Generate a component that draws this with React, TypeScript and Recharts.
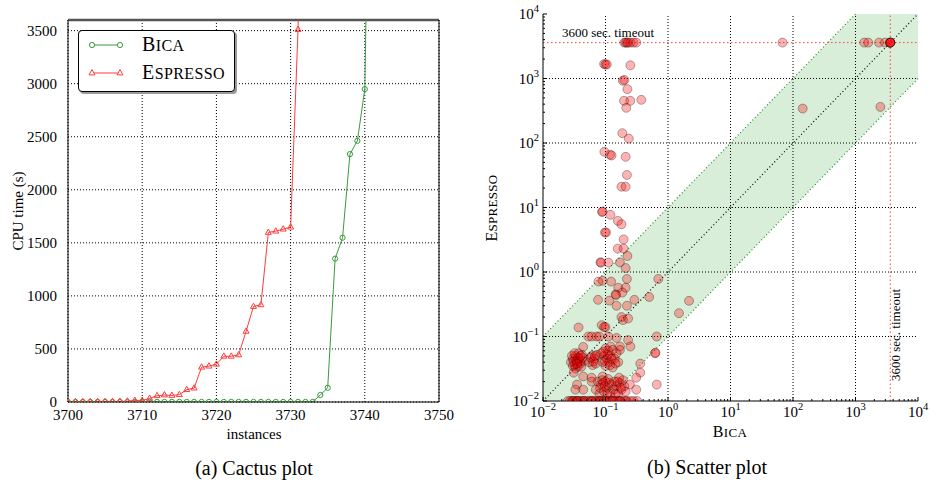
import React from 'react'
import {
  LineChart, Line, XAxis, YAxis, CartesianGrid, ReferenceLine,
  ComposedChart, Scatter, Area,
} from 'recharts'

const SERIF = '"Liberation Serif", "DejaVu Serif", serif'

// ---- cactus plot data (instances 3700 .. 3741) ----
const cactusStart = 3700
const bicaTimes = [
  1, 1, 1, 1, 1, 1, 1, 1, 1, 1, 1, 1, 1, 1, 1, 1, 1, 1, 1, 1,
  1, 1, 1, 1, 1, 1, 1, 1, 1, 1, 1, 1, 1, 2,
  66, 134, 1351, 1548, 2336, 2461, 2949, 7200,
]
const espressoTimes = [
  1, 2, 2, 3, 3, 4, 4, 5, 8, 15, 15, 34, 59, 66, 62, 69, 116, 131, 328, 338,
  356, 431, 431, 444, 666, 900, 916, 1598, 1610, 1629, 1648, 3510, 7200,
]
const cactusXTicks = [3700, 3710, 3720, 3730, 3740, 3750]
const cactusYTicks = [0, 500, 1000, 1500, 2000, 2500, 3000, 3500]

const cactusData = bicaTimes.map((b, i) => ({
  x: cactusStart + i,
  bica: b,
  espresso: i < espressoTimes.length ? espressoTimes[i] : undefined,
}))

// ---- scatter plot data: [Bica, Espresso] seconds ----
const scatterTop: [number, number][] = [
  [0.2, 3600], [0.21, 3600], [0.22, 3600], [0.23, 3600], [0.25, 3600], [0.28, 3600], [0.31, 3600],
  [0.095, 1680], [0.1, 1650], [0.105, 1650], [0.25, 1600],
  [0.19, 920], [0.2, 950], [0.224, 684], [0.198, 451], [0.249, 451], [0.374, 467], [0.215, 351],
  [0.186, 142], [0.236, 117],
  [0.096, 73], [0.118, 66], [0.125, 64], [0.21, 61],
  [0.22, 32], [0.18, 21], [0.21, 21],
  [0.088, 8.5], [0.09, 8.7], [0.12, 7.7], [0.158, 6.2], [0.18, 5.5], [0.098, 4.1], [0.102, 4.1],
  [0.195, 3.2], [0.157, 2.3], [0.195, 2.3], [0.224, 1.77],
  [0.083, 1.41], [0.085, 1.4], [0.111, 1.4], [0.17, 1.41], [0.21, 1.15],
  [0.077, 0.71], [0.09, 0.73], [0.123, 0.71], [0.22, 0.78], [0.7, 0.78],
  [0.16, 0.57], [0.21, 0.57], [0.145, 0.45], [0.148, 0.44], [0.186, 0.48], [0.076, 0.37],
  [0.115, 0.36], [0.29, 0.37], [0.5, 0.41], [2.17, 0.357], [1.5, 0.23], [0.15, 0.3], [0.22, 0.3],
]
const scatterMid: [number, number][] = [
  [0.037, 0.138], [0.087, 0.15], [0.095, 0.14], [0.1, 0.14], [0.19, 0.18], [0.23, 0.19], [0.18, 0.2],
  [0.053, 0.1], [0.06, 0.1], [0.072, 0.1], [0.08, 0.1], [0.111, 0.1], [0.15, 0.095], [0.23, 0.088], [0.66, 0.1],
  [0.044, 0.069], [0.12, 0.07], [0.17, 0.07], [0.25, 0.07], [0.17, 0.062], [0.62, 0.055],
]
const scatterDense: [number, number][] = [
  [0.028, 0.04], [0.03, 0.045], [0.032, 0.036], [0.033, 0.05], [0.035, 0.04], [0.036, 0.034], [0.038, 0.046],
  [0.04, 0.038], [0.042, 0.052], [0.03, 0.035], [0.034, 0.043], [0.045, 0.042], [0.037, 0.055],
  [0.029, 0.05], [0.031, 0.041], [0.033, 0.032], [0.036, 0.047], [0.039, 0.041], [0.041, 0.034],
  [0.043, 0.047], [0.032, 0.055], [0.035, 0.038], [0.04, 0.05],
  [0.055, 0.04], [0.06, 0.05], [0.062, 0.036], [0.066, 0.045], [0.07, 0.038], [0.058, 0.047], [0.073, 0.052],
  [0.064, 0.041], [0.068, 0.05],
  [0.09, 0.04], [0.095, 0.05], [0.1, 0.035], [0.105, 0.045], [0.11, 0.06], [0.115, 0.04], [0.12, 0.05],
  [0.13, 0.033], [0.14, 0.045], [0.15, 0.055], [0.16, 0.04], [0.1, 0.065], [0.13, 0.062], [0.085, 0.055],
  [0.098, 0.042], [0.108, 0.052], [0.118, 0.036], [0.125, 0.045], [0.145, 0.038], [0.092, 0.058],
  [0.07, 0.015], [0.075, 0.02], [0.08, 0.013], [0.085, 0.018], [0.09, 0.024], [0.095, 0.014], [0.1, 0.02],
  [0.105, 0.016], [0.11, 0.022], [0.12, 0.013], [0.125, 0.018], [0.088, 0.021],
  [0.082, 0.016], [0.092, 0.019], [0.098, 0.017], [0.115, 0.019], [0.108, 0.013],
  [0.135, 0.015], [0.14, 0.02], [0.15, 0.017], [0.16, 0.013], [0.17, 0.019], [0.18, 0.015], [0.19, 0.021],
  [0.2, 0.017], [0.21, 0.014], [0.165, 0.023], [0.155, 0.02], [0.175, 0.016], [0.145, 0.013],
  [0.031, 0.0275], [0.044, 0.024], [0.06, 0.023], [0.06, 0.02], [0.245, 0.018], [0.31, 0.015], [0.035, 0.018],
  [0.033, 0.015], [0.044, 0.015], [0.36, 0.0276], [0.36, 0.038], [0.31, 0.023], [0.66, 0.018], [0.63, 0.056],
]
// Espresso times at or below 0.01 s sit on the bottom axis
const bottomRowBica = [
  0.025, 0.027, 0.029, 0.031, 0.033, 0.035, 0.037, 0.04, 0.043, 0.046, 0.05, 0.054, 0.058, 0.062, 0.067,
  0.072, 0.078, 0.084, 0.09, 0.097, 0.105, 0.113, 0.122, 0.132, 0.142, 0.153, 0.165, 0.18, 0.2, 0.22,
  0.25, 0.28, 0.32, 0.03, 0.036, 0.045, 0.06, 0.08, 0.1, 0.13, 0.17, 0.21,
]
const scatterSlow: [number, number][] = [
  [68, 3600], [143, 342], [1380, 3600], [1600, 3600], [2376, 3600], [2965, 3600],
  [3600, 3600], [3600, 3600], [3600, 3600], [3600, 3600], [3600, 3600], [2500, 363],
]
const timeout = 3600

const scatterPoints = [
  ...scatterTop, ...scatterMid, ...scatterDense,
  ...bottomRowBica.map((b) => [b, 0.01] as [number, number]),
  ...scatterSlow,
].map(([x, y]) => ({ x, y }))

// band where the two solvers are within a factor of ten
const bandX = [0.01, 0.1, 1000, 10000]
const bandLow = [0.01, 0.01, 100, 1000]
const bandHigh = [0.1, 1, 10000, 10000]
const bandData = bandX.map((x, i) => ({ x, band: [bandLow[i], bandHigh[i]] }))

const logMajors = [0.01, 0.1, 1, 10, 100, 1000, 10000]
const logExps = [-2, -1, 0, 1, 2, 3, 4]
const logTicks: number[] = []
for (let k = -2; k <= 3; k++) {
  for (let m = 1; m <= 9; m++) logTicks.push(+(m * Math.pow(10, k)).toPrecision(3))
}
logTicks.push(10000)

const GREEN = '#3a9a3a'
const RED = '#ff3b3b'

function CircleDot(p: any) {
  if (p.cx == null || p.cy == null || p.value == null) return <g key={p.index} />
  return <circle key={p.index} cx={p.cx} cy={p.cy} r={2.6} fill="none" stroke={GREEN} strokeWidth={1} />
}

function TriangleDot(p: any) {
  if (p.cx == null || p.cy == null || p.value == null) return <g key={p.index} />
  const { cx, cy } = p
  return (
    <polygon key={p.index} points={`${cx},${cy - 3.4} ${cx - 3},${cy + 1.9} ${cx + 3},${cy + 1.9}`}
      fill="none" stroke={RED} strokeWidth={1} />
  )
}

function expIndex(v: number) {
  return logMajors.findIndex((m) => Math.abs(Math.log10(m) - Math.log10(v)) < 1e-6)
}

function LogTick(side: 'left' | 'bottom' | 'top' | 'right') {
  return (props: any) => {
    const { x, y, payload } = props
    const i = expIndex(payload.value)
    const major = i >= 0
    const len = major ? 4 : 2
    let line
    if (side === 'left') line = <line x1={x} y1={y} x2={x + len} y2={y} stroke="#000" />
    else if (side === 'right') line = <line x1={x} y1={y} x2={x - len} y2={y} stroke="#000" />
    else if (side === 'bottom') line = <line x1={x} y1={y} x2={x} y2={y - len} stroke="#000" />
    else line = <line x1={x} y1={y} x2={x} y2={y + len} stroke="#000" />
    let label = null
    if (major && (side === 'left' || side === 'bottom')) {
      const e = logExps[i]
      const left = side === 'left'
      label = (
        <text x={left ? x - 4 : x} y={left ? y + 5 : y + 16} textAnchor={left ? 'end' : 'middle'}
          fontFamily={SERIF} fontSize={15} fill="#000">
          <tspan>10</tspan>
          <tspan dy={-7} fontSize={10.5}>{e < 0 ? '\u2212' + -e : e}</tspan>
        </text>
      )
    }
    return <g>{line}{label}</g>
  }
}

function CactusChart() {
  return (
    <div style={{ position: 'absolute', left: 0, top: 0 }}>
      <LineChart width={462} height={440} data={cactusData} margin={{ top: 20, right: 23, bottom: 0, left: 0 }}>
        <CartesianGrid stroke="#000" strokeDasharray="1 2" />
        <XAxis type="number" dataKey="x" domain={[3700, 3750]} ticks={cactusXTicks} interval={0}
          allowDataOverflow height={38} tickLine={false} tickMargin={1} axisLine={{ stroke: '#000' }}
          tick={{ fontSize: 15, fill: '#000', fontFamily: SERIF }} />
        <YAxis type="number" domain={[0, 3600]} ticks={cactusYTicks} interval={0}
          allowDataOverflow width={68} tickLine={false} tickMargin={5} axisLine={{ stroke: '#000' }}
          tick={{ fontSize: 15, fill: '#000', fontFamily: SERIF }} />
        <ReferenceLine y={3600} stroke="#555" strokeWidth={2.5} />
        <ReferenceLine x={3750} stroke="#000" />
        <Line type="linear" dataKey="bica" stroke={GREEN} strokeWidth={1} dot={CircleDot}
          activeDot={false} isAnimationActive={false} />
        <Line type="linear" dataKey="espresso" stroke={RED} strokeWidth={1} dot={TriangleDot}
          activeDot={false} isAnimationActive={false} />
      </LineChart>
    </div>
  )
}

function TimeoutLabelH(props: any) {
  const { viewBox } = props
  return (
    <text x={viewBox.x + 19} y={viewBox.y - 6} fontFamily={SERIF} fontSize={13} fill="#000">
      3600 sec. timeout
    </text>
  )
}

function TimeoutLabelV(props: any) {
  const { viewBox } = props
  const cx = viewBox.x + 7
  const cy = viewBox.y + viewBox.height - 66
  return (
    <text x={cx} y={cy} transform={`rotate(-90 ${cx} ${cy})`} textAnchor="middle" dominantBaseline="middle"
      fontFamily={SERIF} fontSize={13} fill="#000">
      3600 sec. timeout
    </text>
  )
}

function ScatterChartBox() {
  return (
    <div style={{ position: 'absolute', left: 470, top: 0 }}>
      <ComposedChart width={460} height={440} data={bandData} margin={{ top: 14, right: 12, bottom: 0, left: 0 }}>
        <XAxis xAxisId="b" type="number" dataKey="x" scale="log" domain={[0.01, 10000]} allowDataOverflow
          ticks={logTicks} interval={0} height={39} tickSize={0} tickMargin={0} axisLine={{ stroke: '#000' }}
          tick={LogTick('bottom')} />
        <XAxis xAxisId="t" orientation="top" type="number" dataKey="x" scale="log" domain={[0.01, 10000]}
          allowDataOverflow ticks={logTicks} interval={0} height={0} tickSize={0} tickMargin={0}
          axisLine={{ stroke: '#000' }} tick={LogTick('top')} />
        <YAxis yAxisId="l" type="number" dataKey="y" scale="log" domain={[0.01, 10000]} allowDataOverflow
          ticks={logTicks} interval={0} width={73} tickSize={0} tickMargin={0} axisLine={{ stroke: '#000' }}
          tick={LogTick('left')} />
        <YAxis yAxisId="r" orientation="right" type="number" dataKey="y" scale="log" domain={[0.01, 10000]}
          allowDataOverflow ticks={logTicks} interval={0} width={0} tickSize={0} tickMargin={0}
          axisLine={{ stroke: '#000' }} tick={LogTick('right')} />
        <Area xAxisId="b" yAxisId="l" type="linear" dataKey="band" stroke="none" fill="#2ca02c"
          fillOpacity={0.18} isAnimationActive={false} dot={false} activeDot={false} />
        {logMajors.slice(1, -1).map((v) => (
          <ReferenceLine key={'gx' + v} xAxisId="b" yAxisId="l" x={v} stroke="#000" strokeDasharray="1 2" />
        ))}
        {logMajors.slice(1, -1).map((v) => (
          <ReferenceLine key={'gy' + v} xAxisId="b" yAxisId="l" y={v} stroke="#000" strokeDasharray="1 2" />
        ))}
        <ReferenceLine xAxisId="b" yAxisId="l" segment={[{ x: 0.01, y: 0.01 }, { x: 10000, y: 10000 }]}
          stroke="#000" strokeWidth={1.2} strokeDasharray="1 2.5" />
        <ReferenceLine xAxisId="b" yAxisId="l" segment={[{ x: 0.01, y: 0.1 }, { x: 1000, y: 10000 }]}
          stroke="#1f8f1f" strokeWidth={1.2} strokeDasharray="1 2.5" />
        <ReferenceLine xAxisId="b" yAxisId="l" segment={[{ x: 0.1, y: 0.01 }, { x: 10000, y: 1000 }]}
          stroke="#1f8f1f" strokeWidth={1.2} strokeDasharray="1 2.5" />
        <ReferenceLine xAxisId="b" yAxisId="l" y={timeout} stroke="#ff4040" strokeDasharray="1.5 2.5"
          label={TimeoutLabelH} />
        <ReferenceLine xAxisId="b" yAxisId="l" x={timeout} stroke="#ff4040" strokeDasharray="1.5 2.5"
          label={TimeoutLabelV} />
        <Scatter xAxisId="b" yAxisId="l" data={scatterPoints} isAnimationActive={false}
          shape={(p: any) => (
            <circle cx={p.cx} cy={p.cy} r={4.5} fill="#ff0000" fillOpacity={0.3}
              stroke="#000" strokeOpacity={0.3} strokeWidth={1} />
          )} />
      </ComposedChart>
    </div>
  )
}

// small caps drawn as a large initial plus smaller capitals
function SmallCaps({ text, big, small, spacing = 0 }: { text: string; big: number; small: number; spacing?: number }) {
  return (
    <span style={{ letterSpacing: spacing }}>
      <span style={{ fontSize: big }}>{text[0]}</span>
      <span style={{ fontSize: small }}>{text.slice(1)}</span>
    </span>
  )
}

function Legend() {
  return (
    <div style={{
      position: 'absolute', left: 78, top: 30, width: 155, height: 60, border: '1px solid #000',
      borderRadius: 4, background: '#fff', boxShadow: '2px 2px 0 #9a9a9a', fontFamily: SERIF,
    }}>
      <svg width={50} height={60} style={{ position: 'absolute', left: 0, top: 0 }}>
        <line x1={13} y1={14} x2={41} y2={14} stroke={GREEN} />
        <circle cx={13} cy={14} r={2.6} fill="#fff" stroke={GREEN} />
        <circle cx={41} cy={14} r={2.6} fill="#fff" stroke={GREEN} />
        <line x1={13} y1={42} x2={41} y2={42} stroke={RED} />
        <polygon points="13,38.6 10,43.9 16,43.9" fill="#fff" stroke={RED} />
        <polygon points="41,38.6 38,43.9 44,43.9" fill="#fff" stroke={RED} />
      </svg>
      <div style={{ position: 'absolute', left: 63, top: 1, lineHeight: '24px', whiteSpace: 'nowrap' }}>
        <SmallCaps text="BICA" big={20} small={16} spacing={0.4} />
      </div>
      <div style={{ position: 'absolute', left: 63, top: 29, lineHeight: '24px', whiteSpace: 'nowrap' }}>
        <SmallCaps text="ESPRESSO" big={20} small={16} spacing={0.4} />
      </div>
    </div>
  )
}

const textBase: React.CSSProperties = { position: 'absolute', fontFamily: SERIF, color: '#000', whiteSpace: 'nowrap' }

export default function App() {
  return (
    <div style={{ position: 'absolute', left: 0, top: 0, width: 930, height: 487, background: '#fff', overflow: 'hidden' }}>
      <CactusChart />
      <ScatterChartBox />
      <Legend />
      <div style={{ ...textBase, left: 18, top: 211, fontSize: 15, transform: 'translate(-50%, -50%) rotate(-90deg)' }}>
        CPU time (s)
      </div>
      <div style={{ ...textBase, left: 254, top: 434, fontSize: 15, transform: 'translate(-50%, -50%)' }}>instances</div>
      <div style={{ ...textBase, left: 492, top: 208, transform: 'translate(-50%, -50%) rotate(-90deg)' }}>
        <SmallCaps text="ESPRESSO" big={16} small={13} spacing={0.3} />
      </div>
      <div style={{ ...textBase, left: 730, top: 432, transform: 'translate(-50%, -50%)' }}>
        <SmallCaps text="BICA" big={16} small={13} spacing={0.3} />
      </div>
      <div style={{ ...textBase, left: 254, top: 468, fontSize: 20, transform: 'translate(-50%, -50%)' }}>(a) Cactus plot</div>
      <div style={{ ...textBase, left: 707, top: 467, fontSize: 20, transform: 'translate(-50%, -50%)' }}>(b) Scatter plot</div>
    </div>
  )
}
